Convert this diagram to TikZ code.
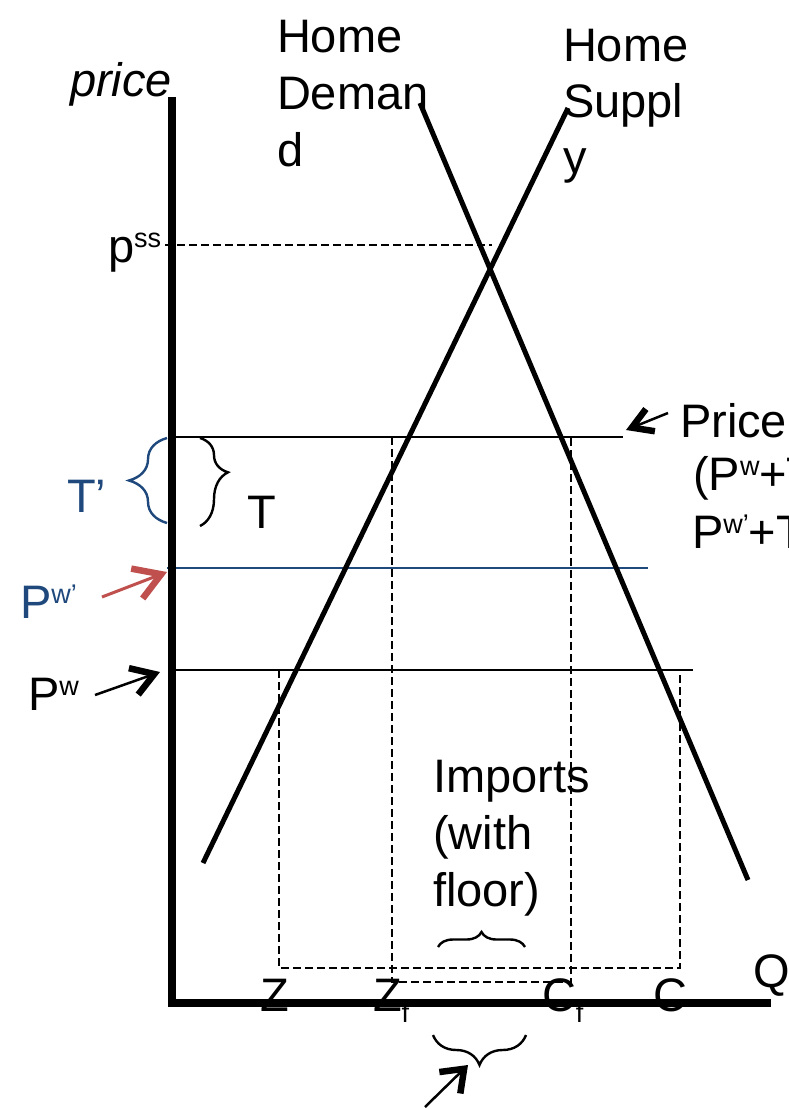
\documentclass[tikz,border=0pt]{standalone}
\usepackage{fontspec}
\setmainfont{Liberation Sans}
\usetikzlibrary{arrows.meta,decorations.pathreplacing}
\definecolor{pblue}{HTML}{1F497D}
\definecolor{pred}{HTML}{C0504D}
\newcommand\upsc[1]{\raisebox{15pt}{\fontsize{27}{27}\selectfont #1}}
\newcommand\dnsc[1]{\raisebox{-11pt}{\fontsize{27}{27}\selectfont #1}}
\begin{document}
\begin{tikzpicture}[x=1pt,y=-1pt,
  every node/.style={inner sep=0pt, outer sep=0pt},
  lbl/.style={anchor=base west, font=\fontsize{47}{57}\selectfont},
  axisline/.style={line width=8pt},
  curveline/.style={line width=5pt},
  levelline/.style={line width=2.5pt},
  guide/.style={line width=2.2pt, dash pattern=on 8pt off 4pt},
  bracestyle/.style={line width=2.4pt, decorate, decoration={brace, amplitude=#1}},
  pointer/.style 2 args={line width=2.5pt, -{Straight Barb[length=#1, width=#2, line width=6.5pt]}}
]
\fill[white] (0,0) rectangle (788,1110);
\useasboundingbox (0,0) rectangle (788,1110);

% ---------- texts ----------
\node[lbl] (price) at (70,97) {\itshape price};
\node[lbl] (hd1) at (277,53) {Home};
\node[lbl] (hd2) at (277,110) {Deman};
\node[lbl] (hd3) at (277,167) {d};
\node[lbl] (hs1) at (563,62) {Home};
\node[lbl] (hs2) at (563,118) {Suppl};
\node[lbl] (hs3) at (563,174) {y};
\node[lbl] (pss) at (108,262) {p\upsc{ss}};
\node[lbl, text=pblue] (tp) at (67,512) {T’};
\node[lbl] (t) at (247,528) {T};
\node[lbl, text=pblue] (pwp) at (20,618) {P\upsc{w’}};
\node[lbl] (pw) at (28,710) {P\upsc{w}};
\node[lbl] (pr1) at (680,437) {Price};
\node[lbl] (pr2) at (693,490) {(P\upsc{w}+T};
\node[lbl] (pr3) at (692,548) {P\upsc{w’}+T};
\node[lbl] (im1) at (433,792) {Imports};
\node[lbl] (im2) at (433,849) {(with};
\node[lbl] (im3) at (433,906) {floor)};
\node[lbl] (z) at (260,1011) {Z};
\node[lbl] (zf) at (373,1011) {Z\dnsc{f}};
\node[lbl] (cf) at (542,1011) {C\dnsc{f}};
\node[lbl] (c) at (653,1011) {C};
\node[lbl] (q) at (753,987) {Q};

% ---------- coordinates ----------
\coordinate (ytop) at (172,97);
\coordinate (O) at (172,1003);
\coordinate (xend) at (771,1003);
\coordinate (D1) at (420,103);
\coordinate (D2) at (748,880);
\coordinate (S1) at (568,108);
\coordinate (S2) at (203,863);
\coordinate (pssL) at (165,245);
\coordinate (pssR) at (492,245);
\coordinate (prL) at (176,437);
\coordinate (prR) at (623,437);
\coordinate (pwpL) at (167,568);
\coordinate (pwpR) at (648,568);
\coordinate (pwL) at (176,670);
\coordinate (pwR) at (693,670);
\coordinate (zA) at (279,670);
\coordinate (zB) at (279,968);
\coordinate (cB) at (680,968);
\coordinate (cA) at (680,670);
\coordinate (zfA) at (392,437);
\coordinate (zfB) at (392,982);
\coordinate (cfB) at (571,982);
\coordinate (cfA) at (571,437);

% ---------- guide lines ----------
\draw[guide] (pssL) -- (pssR);
\draw[guide] (zA) -- (zB) -- (cB) -- (cA);
\draw[guide] (zfA) -- (zfB) -- (cfB) -- (cfA);

% ---------- price levels ----------
\draw[levelline] (prL) -- (prR);
\draw[levelline, pblue] (pwpL) -- (pwpR);
\draw[levelline] (pwL) -- (pwR);

% ---------- demand / supply ----------
\draw[curveline] (D1) -- (D2);
\draw[curveline] (S1) -- (S2);

% ---------- axes ----------
\draw[axisline] (ytop) -- (O) -- (xend);

% ---------- braces ----------
\coordinate (btpA) at (167,523);
\coordinate (btpB) at (167,438);
\draw[bracestyle=38pt, pblue] (btpA) -- (btpB);
\coordinate (btA) at (200,438);
\coordinate (btB) at (200,526);
\draw[line width=2.4pt, decorate, decoration={brace, amplitude=28pt, aspect=0.39}] (btA) -- (btB);
\coordinate (bimA) at (438,947);
\coordinate (bimB) at (525,947);
\draw[bracestyle=15pt] (bimA) -- (bimB);
\coordinate (bbA) at (526,1035);
\coordinate (bbB) at (433,1035);
\draw[bracestyle=30pt] (bbA) -- (bbB);

% ---------- pointers ----------
\coordinate (raT) at (102,597);
\coordinate (raH) at (167,572);
\draw[pointer={26pt}{32pt}, pred, line width=3pt] (raT) -- (raH);
\coordinate (baT) at (95,695);
\coordinate (baH) at (160,672);
\draw[pointer={22pt}{28pt}] (baT) -- (baH);
\coordinate (paT) at (668,413);
\coordinate (paH) at (626,430);
\draw[pointer={20pt}{24pt}] (paT) -- (paH);
\coordinate (qaT) at (425,1107);
\coordinate (qaH) at (468,1065);
\draw[pointer={20pt}{30pt}] (qaT) -- (qaH);
\end{tikzpicture}
\end{document}
